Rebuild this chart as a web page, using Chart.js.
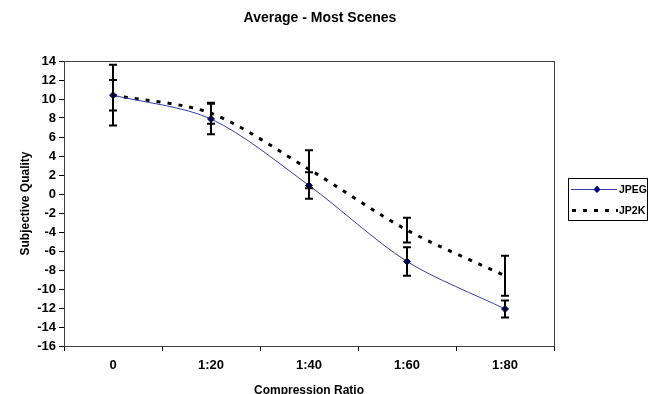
<!DOCTYPE html>
<html>
<head>
<meta charset="utf-8">
<script src="https://cdn.jsdelivr.net/npm/chart.js@4.4.1/dist/chart.umd.min.js"></script>
<style>
  html, body { margin: 0; padding: 0; background: #fff; }
  #wrap { width: 652px; height: 394px; position: relative; }
</style>
</head>
<body>
<div id="wrap"><canvas id="c" width="652" height="394"></canvas></div>
<script>
const chartTitle = "Average - Most Scenes";
const xTitle = "Compression Ratio";
const yTitle = "Subjective Quality";
const categories = ["0", "1:20", "1:40", "1:60", "1:80"];
const jpegValues = [10.4, 7.9, 0.9, -7.1, -12.1];
const jp2kValues = [10.4, 8.5, 2.6, -3.8, -8.6];
const jpegErr = [3.2, 1.6, 1.4, 1.5, 0.9];
const jp2kErr = [1.6, 1.1, 2.0, 1.3, 2.1];
const seriesNames = ["JPEG", "JP2K"];
const yMin = -16, yMax = 14, yStep = 2;

const FONT = "'Liberation Sans', Arial, sans-serif";

const errorBars = {
  id: 'errorBars',
  afterDatasetsDraw(chart) {
    const ctx = chart.ctx;
    const ys = chart.scales.y;
    const errs = [jpegErr, jp2kErr];
    ctx.save();
    ctx.strokeStyle = '#000';
    ctx.lineWidth = 2;
    chart.data.datasets.forEach((ds, i) => {
      const meta = chart.getDatasetMeta(i);
      meta.data.forEach((pt, j) => {
        const v = ds.data[j], e = errs[i][j];
        const x = Math.round(pt.x);
        const yt = ys.getPixelForValue(v + e);
        const yb = ys.getPixelForValue(v - e);
        ctx.beginPath();
        ctx.moveTo(x, yt); ctx.lineTo(x, yb);
        ctx.moveTo(x - 4, yt); ctx.lineTo(x + 4, yt);
        ctx.moveTo(x - 4, yb); ctx.lineTo(x + 4, yb);
        ctx.stroke();
      });
    });
    ctx.restore();
  }
};

const frameAndText = {
  id: 'frameAndText',
  beforeDatasetsDraw(chart) {
    const {ctx, chartArea: a} = chart;
    ctx.save();
    ctx.strokeStyle = '#404040';
    ctx.lineWidth = 1;
    ctx.strokeRect(a.left + 0.5, a.top + 0.5, a.right - a.left, a.bottom - a.top);
    ctx.restore();
  },
  afterDraw(chart) {
    const ctx = chart.ctx;
    ctx.save();
    ctx.fillStyle = '#000';
    ctx.font = "bold 14px " + FONT;
    ctx.textAlign = 'center';
    ctx.textBaseline = 'middle';
    ctx.fillText(chartTitle, 320, 18);
    const lx = 568, ly = 178, lw = 79, lh = 42;
    ctx.fillStyle = '#fff';
    ctx.fillRect(lx, ly, lw, lh);
    ctx.strokeStyle = '#000';
    ctx.lineWidth = 1;
    ctx.strokeRect(lx + 0.5, ly + 0.5, lw, lh);
    const y1 = 189, y2 = 210;
    ctx.strokeStyle = '#3a3aaa';
    ctx.lineWidth = 1;
    ctx.beginPath(); ctx.moveTo(571, y1 + 0.5); ctx.lineTo(617, y1 + 0.5); ctx.stroke();
    ctx.fillStyle = '#000080';
    ctx.beginPath();
    ctx.moveTo(597, y1 - 3.5); ctx.lineTo(600.5, y1 + 0.5); ctx.lineTo(597, y1 + 4); ctx.lineTo(593.5, y1 + 0.5);
    ctx.closePath(); ctx.fill();
    ctx.strokeStyle = '#000';
    ctx.lineWidth = 3;
    ctx.setLineDash([4, 7]);
    ctx.beginPath(); ctx.moveTo(572, y2 + 0.5); ctx.lineTo(618, y2 + 0.5); ctx.stroke();
    ctx.setLineDash([]);
    ctx.fillStyle = '#000';
    ctx.font = "bold 10.5px " + FONT;
    ctx.textAlign = 'left';
    ctx.fillText(seriesNames[0], 619, y1 + 1);
    ctx.fillText(seriesNames[1], 619, y2 + 1);
    ctx.restore();
  }
};

new Chart(document.getElementById('c'), {
  type: 'line',
  data: {
    labels: categories,
    datasets: [
      {
        label: seriesNames[0],
        data: jpegValues,
        borderColor: '#3a3aaa',
        borderWidth: 1,
        pointStyle: 'rectRot',
        pointRadius: 3.5,
        pointBackgroundColor: '#000080',
        pointBorderColor: '#000080',
        pointBorderWidth: 1,
        tension: 0.3,
        fill: false
      },
      {
        label: seriesNames[1],
        data: jp2kValues,
        borderColor: '#000',
        borderWidth: 3,
        borderDash: [4, 7],
        pointRadius: 0,
        tension: 0.3,
        fill: false
      }
    ]
  },
  options: {
    responsive: false,
    animation: false,
    devicePixelRatio: 1,
    layout: { padding: { left: 0, right: 98, top: 61, bottom: 0 } },
    plugins: {
      legend: { display: false },
      title: { display: false },
      tooltip: { enabled: false }
    },
    scales: {
      x: {
        type: 'category',
        offset: true,
        grid: { offset: true, drawOnChartArea: false, tickLength: 5, color: '#000', lineWidth: 1 },
        border: { color: '#000', width: 1 },
        ticks: { color: '#000', font: { family: FONT, size: 13, weight: 'bold' }, padding: 7, maxRotation: 0 },
        title: { display: true, text: xTitle, color: '#000', font: { family: FONT, size: 12, weight: 'bold' }, padding: { top: 0, bottom: -4 } },
        afterFit(s) { s.height = 48; }
      },
      y: {
        min: yMin, max: yMax,
        grid: { drawOnChartArea: false, tickLength: 5, color: '#000', lineWidth: 1 },
        border: { color: '#000', width: 1 },
        ticks: { stepSize: yStep, color: '#000', font: { family: FONT, size: 13, weight: 'bold' }, padding: 3 },
        title: { display: true, text: yTitle, color: '#000', font: { family: FONT, size: 12, weight: 'bold' }, padding: { top: 18, bottom: 0 } },
        afterFit(s) { s.width = 64; }
      }
    }
  },
  plugins: [frameAndText, errorBars]
});
</script>
</body>
</html>
